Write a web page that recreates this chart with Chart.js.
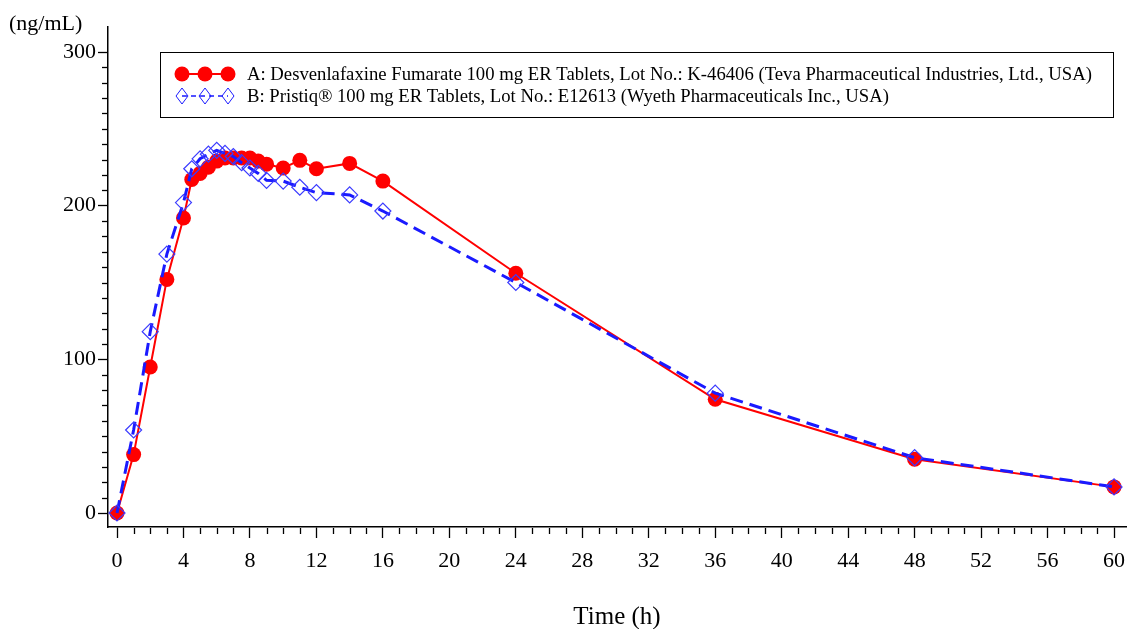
<!DOCTYPE html>
<html>
<head>
<meta charset="utf-8">
<script src="https://cdn.jsdelivr.net/npm/chart.js@4/dist/chart.umd.min.js"></script>
<style>
  html, body { margin: 0; padding: 0; background: #fff; }
  #wrap { width: 1127px; height: 629px; position: relative; }
</style>
</head>
<body>
<div id="wrap"><canvas id="grafico"></canvas></div>
<script>
// ===== DADOS =====
const tempos = [0, 1, 2, 3, 4, 4.5, 5, 5.5, 6, 6.5, 7, 7.5, 8, 8.5, 9, 10, 11, 12, 14, 16, 24, 36, 48, 60];
const serieA = [0, 38, 95, 152, 192, 217, 221, 225, 229, 231, 231, 231, 231, 229, 227, 224.5, 229.5, 224, 227.5, 216, 156, 74, 35, 17];
const serieB = [0, 54, 118, 168.5, 202, 224, 230.5, 233.5, 236, 234, 232, 228, 224.5, 221, 216.5, 216, 212, 208.5, 207, 196.5, 150, 78, 36, 17];
const legendaA = 'A: Desvenlafaxine Fumarate 100 mg ER Tablets, Lot No.: K-46406 (Teva Pharmaceutical Industries, Ltd., USA)';
const legendaB = 'B: Pristiq\u00ae 100 mg ER Tablets, Lot No.: E12613 (Wyeth Pharmaceuticals Inc., USA)';
const ticksX = [0, 4, 8, 12, 16, 20, 24, 28, 32, 36, 40, 44, 48, 52, 56, 60];
const ticksY = [0, 100, 200, 300];
const tituloX = 'Time (h)';
const tituloY = '(ng/mL)';

const fonte = 'Liberation Serif, Times New Roman, serif';
const vermelho = '#ff0000';
const azul = '#1a1aff';

// ===== TÍTULOS, TRAÇOS MENORES E LEGENDA =====
const extras = {
  id: 'extras',
  afterDraw(chart) {
    const c = chart.ctx;
    const sx = chart.scales.x, sy = chart.scales.y;
    const area = chart.chartArea;
    c.save();
    c.strokeStyle = '#000';
    c.lineWidth = 1.3;
    // traços menores do eixo x
    for (let v = 0; v <= 60; v++) {
      if (v % 4 === 0) continue;
      const px = Math.round(sx.getPixelForValue(v)) + 0.5;
      c.beginPath(); c.moveTo(px, area.bottom + 1); c.lineTo(px, area.bottom + 7); c.stroke();
    }
    // traços menores do eixo y
    for (let v = 0; v <= 300; v += 10) {
      if (v % 100 === 0) continue;
      const py = Math.round(sy.getPixelForValue(v)) + 0.5;
      c.beginPath(); c.moveTo(area.left - 6, py); c.lineTo(area.left, py); c.stroke();
    }
    // títulos
    c.fillStyle = '#000';
    c.font = '22px ' + fonte;
    c.textAlign = 'left'; c.textBaseline = 'middle';
    c.fillText(tituloY, 9, 24);
    c.font = '25px ' + fonte;
    c.textAlign = 'center';
    c.fillText(tituloX, 617, 617);

    // legenda
    c.lineWidth = 1;
    c.strokeRect(160.5, 52.5, 953, 65);
    const xs = [182, 205, 228];
    // A
    c.strokeStyle = vermelho; c.lineWidth = 2;
    c.beginPath(); c.moveTo(xs[0], 74); c.lineTo(xs[2], 74); c.stroke();
    c.fillStyle = vermelho;
    xs.forEach(x => { c.beginPath(); c.arc(x, 74, 7.5, 0, Math.PI * 2); c.fill(); });
    // B
    c.strokeStyle = azul; c.lineWidth = 1.5;
    c.setLineDash([5, 4]);
    c.beginPath(); c.moveTo(xs[0], 96); c.lineTo(xs[2], 96); c.stroke();
    c.setLineDash([]);
    c.lineWidth = 1;
    xs.forEach(x => {
      c.beginPath(); c.moveTo(x, 88); c.lineTo(x + 6, 96); c.lineTo(x, 104); c.lineTo(x - 6, 96); c.closePath();
      c.stroke();
    });
    c.fillStyle = '#000';
    c.font = '18.7px ' + fonte;
    c.textAlign = 'left';
    c.fillText(legendaA, 247, 75);
    c.fillText(legendaB, 247, 97);
    c.restore();
  }
};

const ctx = document.getElementById('grafico');
new Chart(ctx, {
  type: 'line',
  data: {
    datasets: [
      {
        label: legendaA,
        data: tempos.map((t, i) => ({ x: t, y: serieA[i] })),
        borderColor: vermelho,
        backgroundColor: vermelho,
        borderWidth: 2,
        pointStyle: 'circle',
        pointRadius: 7.5,
        pointBorderWidth: 0,
        pointBackgroundColor: vermelho,
        tension: 0,
        order: 1
      },
      {
        label: legendaB,
        data: tempos.map((t, i) => ({ x: t, y: serieB[i] })),
        borderColor: azul,
        borderWidth: 3,
        borderDash: [13, 7],
        pointStyle: 'rectRot',
        pointRadius: 8,
        pointBorderWidth: 1.2,
        pointBorderColor: '#3a3aff',
        pointBackgroundColor: 'rgba(0,0,0,0)',
        tension: 0,
        order: 0
      }
    ]
  },
  options: {
    responsive: true,
    maintainAspectRatio: false,
    animation: false,
    layout: { autoPadding: false, padding: { top: 27, right: 0, left: 0, bottom: 0 } },
    plugins: { legend: { display: false }, tooltip: { enabled: false }, title: { display: false } },
    scales: {
      x: {
        type: 'linear',
        min: -0.542,
        max: 60.78,
        afterBuildTicks: s => { s.ticks = ticksX.map(v => ({ value: v })); },
        afterFit: s => { s.height = 102; s.paddingRight = 0; },
        border: { display: true, color: '#000', width: 1.5 },
        grid: { drawOnChartArea: false, drawTicks: true, tickLength: 11, tickColor: '#000', tickWidth: 1.3 },
        ticks: { color: '#000', font: { family: fonte, size: 22 }, padding: 10, maxRotation: 0, autoSkip: false }
      },
      y: {
        type: 'linear',
        min: -9.11,
        max: 316.27,
        afterBuildTicks: s => { s.ticks = ticksY.map(v => ({ value: v })); },
        afterFit: s => { s.width = 108; },
        border: { display: true, color: '#000', width: 1.5 },
        grid: { drawOnChartArea: false, drawTicks: true, tickLength: 10, tickColor: '#000', tickWidth: 1.3 },
        ticks: { color: '#000', font: { family: fonte, size: 22 }, padding: 2 }
      }
    }
  },
  plugins: [extras]
});
</script>
</body>
</html>
